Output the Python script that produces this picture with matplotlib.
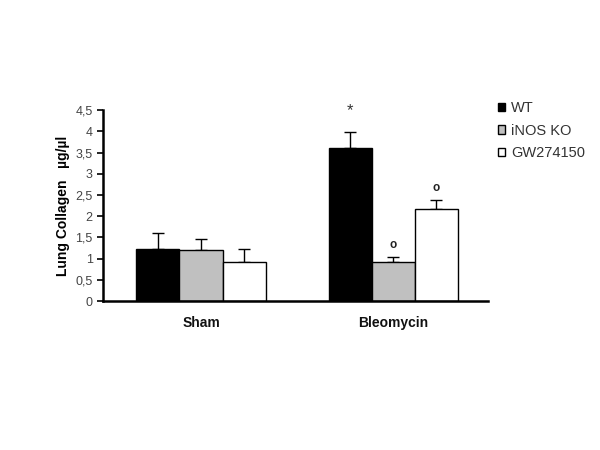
import matplotlib
matplotlib.use('Agg')
import matplotlib.pyplot as plt
import numpy as np

plt.rcParams['font.family'] = ['Liberation Sans', 'DejaVu Sans']

groups = ['Sham', 'Bleomycin']
series = ['WT', 'iNOS KO', 'GW274150']
values = {
    'WT': [1.23, 3.60],
    'iNOS KO': [1.20, 0.93],
    'GW274150': [0.93, 2.16],
}
errors = {
    'WT': [0.38, 0.38],
    'iNOS KO': [0.26, 0.11],
    'GW274150': [0.30, 0.22],
}
marks = {
    'WT': ['', '*'],
    'iNOS KO': ['', 'o'],
    'GW274150': ['', 'o'],
}
colors = ['black', '#c0c0c0', 'white']

fig = plt.figure(figsize=(6, 4.5), dpi=100)
ax = fig.add_axes([0.1717, 0.331, 0.642, 0.4244])

x = np.arange(len(groups))
width = 0.224
for i, name in enumerate(series):
    pos = x + (i - 1) * width
    ax.bar(pos, values[name], width, color=colors[i], edgecolor='black',
           linewidth=1, label=name, zorder=2)
    ax.errorbar(pos, values[name], yerr=[np.zeros(2), errors[name]],
                fmt='none', ecolor='black', elinewidth=1, capsize=4,
                capthick=1, zorder=1)
    for p, v, e, m in zip(pos, values[name], errors[name], marks[name]):
        if m == '*':
            ax.text(p, v + e + 0.5, m, ha='center', va='center',
                    fontsize=12, color='#333333')
        elif m:
            ax.text(p, v + e + 0.28, m, ha='center', va='center',
                    fontsize=8.5, fontweight='bold', color='#222222')

ax.set_xlim(-0.51, 1.495)
ax.set_ylim(0, 4.5)
ax.set_yticks(np.arange(0, 4.6, 0.5))
ax.set_yticklabels(['0', '0,5', '1', '1,5', '2', '2,5', '3', '3,5', '4', '4,5'])
ax.tick_params(axis='y', labelsize=9, length=4, width=1.2, colors='black',
               labelcolor='#444444', direction='out')
ax.set_xticks(x)
ax.set_xticklabels(groups, fontsize=10, fontweight='bold')
for lab in ax.get_xticklabels():
    lab.set_color('#111111')
ax.tick_params(axis='x', length=0, pad=11)
for s in ['top', 'right']:
    ax.spines[s].set_visible(False)
for s in ['left', 'bottom']:
    ax.spines[s].set_linewidth(1.8)

ax.set_ylabel('Lung Collagen   \u00b5g/\u00b5l', fontsize=10, fontweight='bold',
              labelpad=4)

leg = fig.legend(*ax.get_legend_handles_labels(), loc='upper left',
                 bbox_to_anchor=(0.818, 0.792), frameon=False,
                 fontsize=10.5, handlelength=0.5, handleheight=0.5,
                 handletextpad=0.4, labelspacing=0.6, borderpad=0)
for t in leg.get_texts():
    t.set_color('#333333')

fig.savefig('out.png', dpi=100)
